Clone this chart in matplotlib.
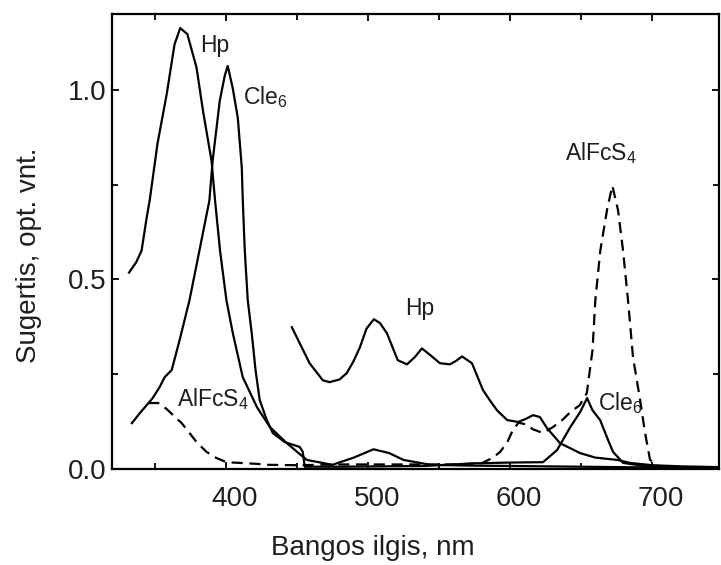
import matplotlib
matplotlib.use("Agg")
import matplotlib.pyplot as plt
from matplotlib.ticker import MultipleLocator, FixedLocator
from matplotlib.transforms import ScaledTranslation

plt.rcParams['font.family'] = ['Liberation Sans', 'DejaVu Sans']
plt.rcParams['mathtext.fontset'] = 'custom'
plt.rcParams['mathtext.rm'] = 'Liberation Sans'
plt.rcParams['mathtext.it'] = 'Liberation Sans:italic'

# ---- data ----
hp_x = [332, 334, 337, 340.8, 344.4, 346.5, 352, 358.5, 364, 368, 373, 379.5, 384, 390,
        392.5, 396, 400.5, 405, 412, 422, 431, 443, 457, 475, 490, 504, 515, 525, 544,
        570, 600, 650, 700, 747]
hp_y = [0.518, 0.529, 0.545, 0.576, 0.663, 0.708, 0.858, 0.989, 1.12, 1.163, 1.147,
        1.058, 0.945, 0.813, 0.708, 0.576, 0.445, 0.358, 0.242, 0.163, 0.111, 0.068,
        0.024, 0.011, 0.030, 0.052, 0.042, 0.024, 0.011, 0.009, 0.008, 0.006, 0.004,
        0.003]

hpm_x = [446.5, 452, 459, 468.3, 473, 480, 485.2, 490, 494.4, 499, 504.2, 508.5,
         513.4, 518, 521, 527.5, 533, 538, 544, 550.7, 557.7, 562, 566.2, 573.2, 581,
         586, 590.8, 598, 605.6, 611, 616.2, 621, 626, 635.2, 649.3, 660, 675.4,
         684.5, 700, 720, 747]
hpm_y = [0.374, 0.332, 0.279, 0.234, 0.229, 0.236, 0.253, 0.285, 0.321, 0.37, 0.395,
         0.385, 0.358, 0.315, 0.287, 0.276, 0.295, 0.318, 0.30, 0.279, 0.276, 0.285,
         0.297, 0.279, 0.208, 0.18, 0.155, 0.129, 0.124, 0.132, 0.142, 0.137, 0.108,
         0.068, 0.042, 0.03, 0.024, 0.016, 0.01, 0.007, 0.005]

cle_x = [334, 339.5, 348.6, 353.5, 357, 362, 367.5, 374.5, 381.5, 388.5, 390.8, 395.8,
         399.3, 401.4, 404.9, 408.5, 411.3, 412, 413.4, 415.5, 418.3, 421, 423.9,
         428.9, 433.1, 441.5, 452.1, 454.2, 455.6, 480, 540, 575, 600, 623.2, 633.1,
         642.3, 649.3, 654.2, 658, 663.4, 669, 672.5, 679.6, 700, 747]
cle_y = [0.121, 0.147, 0.187, 0.216, 0.242, 0.261, 0.339, 0.445, 0.576, 0.708, 0.813,
         0.971, 1.037, 1.063, 1.005, 0.926, 0.795, 0.708, 0.576, 0.445, 0.358, 0.26,
         0.182, 0.129, 0.095, 0.071, 0.058, 0.045, 0.006, 0.006, 0.008, 0.015, 0.017,
         0.018, 0.05, 0.11, 0.15, 0.187, 0.155, 0.129, 0.076, 0.045, 0.016, 0.005,
         0.003]

al_x = [345.5, 352.5, 358.5, 363, 369, 374.5, 379.5, 386.5, 393.5, 400.5, 410, 420,
        430, 450, 480, 520, 560, 580, 588, 593, 598, 602, 606, 611, 616, 623, 630,
        637, 643, 649, 654, 658, 660, 663.5, 668.5, 672, 676, 679.5, 683, 686.5,
        691.5, 695, 698.5, 705, 747]
al_y = [0.174, 0.174, 0.158, 0.142, 0.121, 0.095, 0.071, 0.045, 0.029, 0.018, 0.016,
        0.014, 0.011, 0.01, 0.012, 0.012, 0.012, 0.015, 0.03, 0.045, 0.07, 0.103,
        0.122, 0.118, 0.105, 0.095, 0.11, 0.13, 0.152, 0.168, 0.2, 0.313, 0.445,
        0.576, 0.689, 0.747, 0.682, 0.576, 0.445, 0.295, 0.182, 0.095, 0.024, 0.006,
        0.004]

x_ticks = [400, 500, 600, 700]
y_ticks = [0.0, 0.5, 1.0]
x_label = "Bangos ilgis, nm"
y_label = "Sugertis, opt. vnt."

# ---- figure ----
fig = plt.figure(figsize=(7.21, 5.65), dpi=100)
ax = fig.add_axes([112 / 721, 1 - 469 / 565, 607 / 721, 455 / 565])

lw = 1.6
ax.plot(hp_x, hp_y, color='black', lw=lw, solid_joinstyle='round')
ax.plot(hpm_x, hpm_y, color='black', lw=lw, solid_joinstyle='round')
ax.plot(cle_x, cle_y, color='black', lw=lw, solid_joinstyle='round')
ax.plot(al_x, al_y, color='black', lw=lw, linestyle=(0, (5, 3)))

ax.set_xlim(320, 747)
ax.set_ylim(0, 1.2)

ax.xaxis.set_major_locator(FixedLocator(x_ticks))
ax.xaxis.set_minor_locator(MultipleLocator(50))
ax.yaxis.set_major_locator(FixedLocator(y_ticks))
ax.yaxis.set_minor_locator(MultipleLocator(0.25))
ax.set_xticklabels([str(v) for v in x_ticks])
ax.set_yticklabels([f"{v:.1f}" for v in y_ticks])

tc = '#1e1e1e'
ax.tick_params(which='both', direction='in', top=True, right=True, width=1.3,
               color='black')
ax.tick_params(which='major', length=5)
ax.tick_params(which='minor', length=4)
ax.tick_params(axis='x', which='major', labelsize=20, pad=12, labelcolor=tc)
ax.tick_params(axis='y', which='major', labelsize=20, pad=4, labelcolor=tc)
for s in ax.spines.values():
    s.set_linewidth(1.6)

off = ScaledTranslation(9 / 100, 0, fig.dpi_scale_trans)
for lab in ax.xaxis.get_majorticklabels():
    lab.set_transform(lab.get_transform() + off)

ax.set_xlabel(x_label, fontsize=20, color=tc)
ax.set_ylabel(y_label, fontsize=20, color=tc)
ax.xaxis.set_label_coords(0.43, -0.145)
ax.yaxis.set_label_coords(-0.115, 0.47)

fs = 16.5
ax.text(381.7, 1.118, "Hp", fontsize=fs, color=tc, ha='left', va='center')
ax.text(412, 0.982, r"Cle$_\mathregular{6}$", fontsize=fs, color=tc, ha='left', va='center')
ax.text(526, 0.424, "Hp", fontsize=fs, color=tc, ha='left', va='center')
ax.text(365.5, 0.184, r"AlFcS$_\mathregular{4}$", fontsize=fs, color=tc, ha='left', va='center')
ax.text(638.7, 0.832, r"AlFcS$_\mathregular{4}$", fontsize=fs, color=tc, ha='left', va='center')
ax.text(662, 0.174, r"Cle$_\mathregular{6}$", fontsize=fs, color=tc, ha='left', va='center')

fig.savefig("out.png", dpi=100)
